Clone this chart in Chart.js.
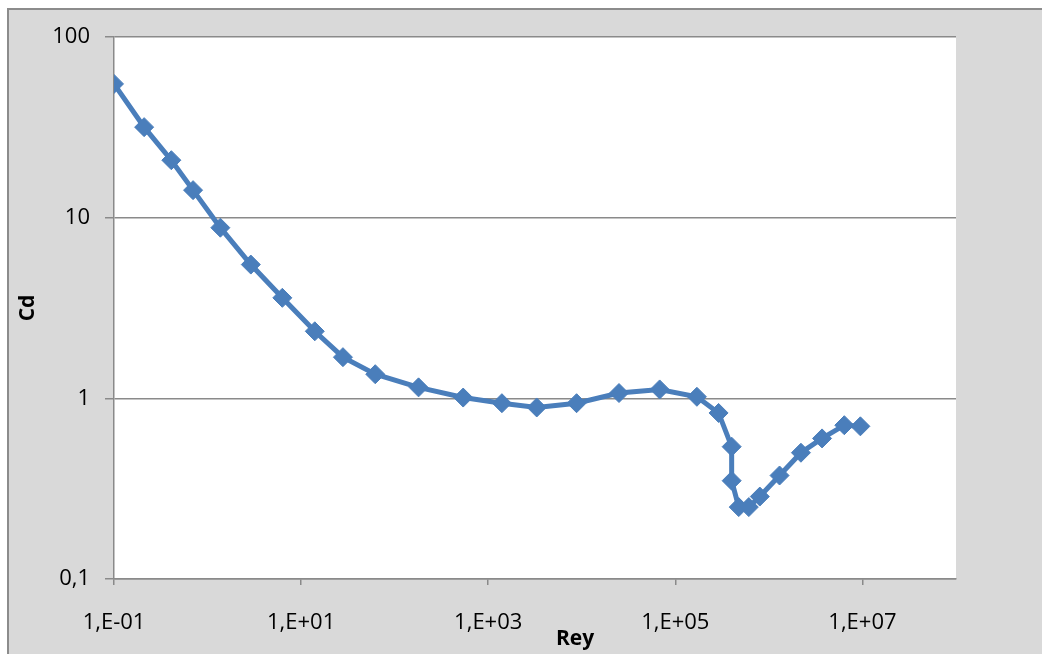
<!DOCTYPE html>
<html>
<head>
<meta charset="utf-8">
<script src="https://cdn.jsdelivr.net/npm/chart.js@4/dist/chart.umd.min.js"></script>
<style>
  html, body { margin: 0; padding: 0; background: #fff; overflow: hidden; }
  #frame {
    position: absolute; left: 7px; top: 8px; width: 1100px; height: 700px;
    background: #d9d9d9; border: 2px solid #8c8c8c; box-sizing: border-box;
  }
  #wrap { position: absolute; left: 0; top: 0; width: 1042px; height: 654px; }
</style>
</head>
<body>
<div id="frame"></div>
<div id="wrap"><canvas id="drag-chart" width="1042" height="654"></canvas></div>
<script>
// ── DATA ──
const REY = [0.1, 0.21, 0.41, 0.7, 1.37, 2.9, 6.3, 14, 28, 62, 180, 540, 1400, 3300, 8800,
             25000, 68000, 170000, 290000, 400000, 400000, 476000, 610000, 800000,
             1300000, 2200000, 3700000, 6400000, 9500000];
const CD  = [55, 31.7, 20.8, 14.2, 8.8, 5.5, 3.6, 2.35, 1.69, 1.36, 1.15, 1.01, 0.94, 0.89, 0.94,
             1.07, 1.12, 1.02, 0.83, 0.54, 0.35, 0.25, 0.25, 0.286,
             0.374, 0.50, 0.60, 0.71, 0.70];

const X_TICKS  = [0.1, 10, 1000, 100000, 10000000];
const X_LABELS = ['1,E-01', '1,E+01', '1,E+03', '1,E+05', '1,E+07'];
const Y_TICKS  = [0.1, 1, 10, 100];
const Y_LABELS = ['0,1', '1', '10', '100'];

const LINE_BLUE = '#4a7ebb';
const AXIS_GREY = '#8a8a8a';
const FONT = '"Open Sans", Lato, sans-serif';

// white plot area + axis titles
const plotBg = {
  id: 'plotBg',
  beforeDraw(chart) {
    const { ctx, chartArea: a } = chart;
    ctx.save();
    ctx.fillStyle = '#fff';
    ctx.fillRect(a.left, a.top, a.right - a.left, a.bottom - a.top);
    ctx.restore();
  }
};

const axisTitles = {
  id: 'axisTitles',
  afterDraw(chart) {
    const ctx = chart.ctx;
    ctx.save();
    ctx.fillStyle = '#000';
    ctx.font = 'bold 21px ' + FONT;
    ctx.textAlign = 'center';
    ctx.textBaseline = 'middle';
    ctx.fillText('Rey', 575, 639);
    ctx.translate(28, 308);
    ctx.rotate(-Math.PI / 2);
    ctx.fillText('Cd', 0, 0);
    ctx.restore();
  }
};

new Chart(document.getElementById('drag-chart').getContext('2d'), {
  type: 'scatter',
  data: {
    datasets: [{
      data: REY.map((r, i) => ({ x: r, y: CD[i] })),
      showLine: true,
      borderColor: LINE_BLUE,
      borderWidth: 5,
      backgroundColor: LINE_BLUE,
      pointStyle: 'rectRot',
      pointRadius: 9.5,
      pointBorderWidth: 1,
      pointBorderColor: LINE_BLUE,
      tension: 0,
    }]
  },
  options: {
    responsive: false,
    animation: false,
    layout: { padding: { left: 0, top: 37, right: 86, bottom: 0 } },
    plugins: { legend: { display: false }, tooltip: { enabled: false } },
    scales: {
      x: {
        type: 'logarithmic',
        min: 0.1, max: 1e8,
        afterBuildTicks: s => { s.ticks = X_TICKS.map(v => ({ value: v })); },
        afterFit: s => { s.height = 75; },
        ticks: {
          callback: (v, i) => X_LABELS[i],
          color: '#000', font: { family: FONT, size: 22 }, padding: 25,
          maxRotation: 0, autoSkip: false,
        },
        grid: { drawOnChartArea: false, drawTicks: true, tickLength: 6, color: AXIS_GREY, lineWidth: 1.5 },
        border: { color: AXIS_GREY, width: 1.5 },
      },
      y: {
        type: 'logarithmic',
        min: 0.1, max: 100,
        afterBuildTicks: s => { s.ticks = Y_TICKS.map(v => ({ value: v })); },
        afterFit: s => { s.width = 114; },
        ticks: {
          callback: (v, i) => Y_LABELS[i],
          color: '#000', font: { family: FONT, size: 22 }, padding: 15,
        },
        grid: { color: AXIS_GREY, lineWidth: 1.5, tickLength: 9 },
        border: { color: AXIS_GREY, width: 1.5 },
      }
    }
  },
  plugins: [plotBg, axisTitles]
});
</script>
</body>
</html>
